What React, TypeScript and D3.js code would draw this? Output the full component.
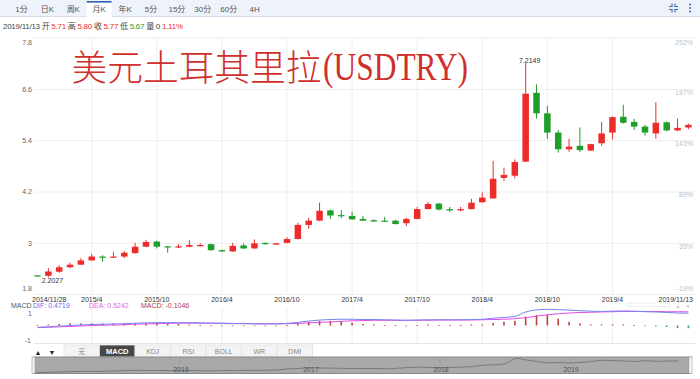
import React from "react";
import * as d3 from "d3";

// ---------- data ----------
const months = [
  "2014/11", "2014/12",
  "2015/01", "2015/02", "2015/03", "2015/04", "2015/05", "2015/06", "2015/07", "2015/08", "2015/09", "2015/10", "2015/11", "2015/12",
  "2016/01", "2016/02", "2016/03", "2016/04", "2016/05", "2016/06", "2016/07", "2016/08", "2016/09", "2016/10", "2016/11", "2016/12",
  "2017/01", "2017/02", "2017/03", "2017/04", "2017/05", "2017/06", "2017/07", "2017/08", "2017/09", "2017/10", "2017/11", "2017/12",
  "2018/01", "2018/02", "2018/03", "2018/04", "2018/05", "2018/06", "2018/07", "2018/08", "2018/09", "2018/10", "2018/11", "2018/12",
  "2019/01", "2019/02", "2019/03", "2019/04", "2019/05", "2019/06", "2019/07", "2019/08", "2019/09", "2019/10", "2019/11",
];
const open = [
  2.25, 2.24,
  2.335, 2.44, 2.5, 2.6, 2.69, 2.67, 2.69, 2.77, 2.92, 3.04, 2.93, 2.92,
  2.92, 2.95, 2.98, 2.84, 2.81, 2.95, 2.88, 3.01, 2.97, 3.01, 3.1, 3.43,
  3.53, 3.77, 3.66, 3.64, 3.57, 3.54, 3.53, 3.53, 3.47, 3.57, 3.8, 3.93,
  3.8, 3.77, 3.8, 3.96, 4.05, 4.53, 4.58, 4.91, 6.52, 6.04, 5.59, 5.2,
  5.28, 5.17, 5.34, 5.59, 5.96, 5.84, 5.73, 5.57, 5.83, 5.64, 5.71,
];
const high = [
  2.26, 2.42,
  2.49, 2.55, 2.65, 2.75, 2.72, 2.8, 2.82, 3.01, 3.08, 3.06, 2.94, 2.98,
  3.07, 3.0, 2.99, 2.85, 3.01, 3.0, 3.09, 3.02, 3.01, 3.14, 3.48, 3.6,
  3.95, 3.79, 3.78, 3.74, 3.64, 3.56, 3.62, 3.55, 3.6, 3.85, 3.97, 3.94,
  3.85, 3.85, 4.04, 4.19, 4.93, 4.77, 4.96, 7.2149, 6.72, 6.22, 5.65, 5.44,
  5.71, 5.33, 5.84, 5.97, 6.24, 5.91, 5.77, 6.3, 5.85, 5.92, 5.8,
];
const low = [
  2.23, 2.2027,
  2.31, 2.42, 2.49, 2.59, 2.57, 2.66, 2.65, 2.76, 2.91, 2.88, 2.78, 2.89,
  2.91, 2.92, 2.82, 2.8, 2.8, 2.86, 2.87, 2.97, 2.96, 3.0, 3.09, 3.34,
  3.52, 3.57, 3.59, 3.55, 3.52, 3.5, 3.5, 3.44, 3.4, 3.56, 3.79, 3.77,
  3.73, 3.75, 3.79, 3.95, 4.04, 4.46, 4.52, 4.9, 5.92, 5.44, 5.12, 5.14,
  5.14, 5.16, 5.28, 5.43, 5.8, 5.65, 5.52, 5.44, 5.62, 5.62, 5.67,
];
const close = [
  2.24, 2.34,
  2.44, 2.5, 2.6, 2.69, 2.68, 2.69, 2.78, 2.92, 3.03, 2.92, 2.92, 2.93,
  2.96, 2.96, 2.84, 2.81, 2.94, 2.88, 3.0, 2.98, 3.0, 3.1, 3.43, 3.53,
  3.76, 3.65, 3.64, 3.56, 3.53, 3.51, 3.52, 3.45, 3.57, 3.8, 3.92, 3.79,
  3.77, 3.8, 3.95, 4.07, 4.51, 4.6, 4.9, 6.5, 6.04, 5.59, 5.2, 5.26,
  5.18, 5.32, 5.57, 5.95, 5.82, 5.73, 5.59, 5.82, 5.64, 5.7, 5.77,
];
const dif = [
  -0.07, -0.05, -0.02, 0.0, 0.02, 0.04, 0.05, 0.06, 0.07, 0.09,
  0.1, 0.11, 0.11, 0.11, 0.11, 0.1, 0.09, 0.08, 0.07, 0.07,
  0.06, 0.06, 0.06, 0.08, 0.12, 0.17, 0.21, 0.23, 0.24, 0.24,
  0.23, 0.23, 0.22, 0.21, 0.2, 0.21, 0.22, 0.22, 0.22, 0.22,
  0.23, 0.24, 0.28, 0.31, 0.35, 0.52, 0.6, 0.62, 0.61, 0.59,
  0.57, 0.55, 0.54, 0.55, 0.56, 0.55, 0.53, 0.52, 0.5, 0.48, 0.4719,
];
const dea = [
  -0.08, -0.07, -0.05, -0.04, -0.02, 0.0, 0.01, 0.02, 0.03, 0.05,
  0.06, 0.07, 0.08, 0.09, 0.09, 0.09, 0.09, 0.09, 0.08, 0.08,
  0.07, 0.07, 0.07, 0.07, 0.08, 0.1, 0.12, 0.14, 0.16, 0.18,
  0.19, 0.2, 0.2, 0.2, 0.2, 0.2, 0.2, 0.21, 0.21, 0.21,
  0.21, 0.22, 0.23, 0.24, 0.26, 0.3, 0.36, 0.41, 0.45, 0.48,
  0.5, 0.51, 0.52, 0.53, 0.54, 0.54, 0.54, 0.54, 0.53, 0.53, 0.5242,
];
const macdHist = [
  0.02, 0.04, 0.06, 0.08, 0.08, 0.08, 0.08, 0.08, 0.08, 0.08,
  0.1, 0.1, 0.08, 0.06, 0.04, 0.02, 0.0, -0.02, -0.02, -0.02,
  -0.02, -0.02, -0.02, 0.02, 0.08, 0.14, 0.18, 0.18, 0.14, 0.1,
  0.06, 0.04, 0.02, 0.02, 0.0, 0.02, 0.04, 0.02, 0.02, 0.02,
  0.04, 0.04, 0.1, 0.14, 0.18, 0.34, 0.4, 0.42, 0.26, 0.14,
  0.08, 0.04, 0.04, 0.04, 0.04, 0.02, -0.02, -0.04, -0.06, -0.1, -0.1046,
];
const yTicks = [1.8, 3, 4.2, 5.4, 6.6, 7.8];
const pctTicks = ["-19%", "35%", "89%", "143%", "197%", "252%"];
const xTickMonths = ["2015/04", "2015/10", "2016/04", "2016/10", "2017/04", "2017/10", "2018/04", "2018/10", "2019/04"];
const xTickLabels = ["2015/4", "2015/10", "2016/4", "2016/10", "2017/4", "2017/10", "2018/4", "2018/10", "2019/4"];
const firstDateLabel = "2014/11/28";
const lastDateLabel = "2019/11/13";
const navYearMonths = ["2016/01", "2017/01", "2018/01", "2019/01"];
const navYearLabels = ["2016", "2017", "2018", "2019"];
const periodTabs = ["1分", "日K", "周K", "月K", "年K", "5分", "15分", "30分", "60分", "4H"];
const indicatorTabs = ["无", "MACD", "KDJ", "RSI", "BOLL", "WR", "DMI"];
const lowLabel = "2.2027";
const highLabel = "7.2149";
const info = { date: "2019/11/13", o: "5.71", h: "5.80", c: "5.77", l: "5.67", vol: "0", chg: "1.11%" };
const macdInfo = { dif: "0.4719", dea: "0.5242", macd: "-0.1046" };

// ---------- style ----------
const FONT = "'Liberation Sans', Arial, 'Noto Sans CJK SC', sans-serif";
const RED = "#ee2b2b";
const GREEN = "#1f9e2a";
const W = 700;
const H = 379;

export default function App() {
  const x = d3.scalePoint<string>().domain(months).range([37.5, 688.4]);
  const step = x.step();
  const cw = step * 0.6;
  const y = d3.scaleLinear().domain([1.8, 7.8]).range([294.6, 38.1]);
  const ym = d3.scaleLinear().domain([0, 1]).range([325.5, 299.5]);
  const xn = d3.scalePoint<string>().domain(months).range([180 - 14 * 10.833, 180 + 46 * 10.833]);
  const yn = d3.scaleLinear().domain([2.2, 7.2]).range([373, 356]);

  const idx = months.map((_, i) => i);
  const difLine = d3.line<number>().x((i) => x(months[i])!).y((i) => ym(dif[i])).curve(d3.curveMonotoneX);
  const deaLine = d3.line<number>().x((i) => x(months[i])!).y((i) => ym(dea[i])).curve(d3.curveMonotoneX);
  const navLine = d3.line<number>().x((i) => xn(months[i])!).y((i) => yn(close[i])).curve(d3.curveMonotoneX);

  const clampY = (v: number) => Math.min(Math.max(v, 43), 289);
  const plotL = 34;
  const plotR = 695;

  const iLow = low.indexOf(d3.min(low)!);
  const iHigh = high.indexOf(d3.max(high)!);

  return (
    <svg
      width={W}
      height={H}
      style={{ position: "absolute", left: 0, top: 0, display: "block", background: "#fff" }}
      fontFamily={FONT}
    >
      <rect x={0} y={0} width={W} height={H} fill="#fff" />

      {/* top toolbar */}
      <rect x={0} y={0} width={W} height={17} fill="#eef3fb" />
      <line x1={0} x2={W} y1={16.5} y2={16.5} stroke="#d6deeb" />
      {periodTabs.map((t, k) => {
        const cx = 21.5 + k * 25.9;
        return (
          <g key={t}>
            {t === "月K" && (
              <>
                <rect x={cx - 12.5} y={1} width={25} height={16} fill="#fff" />
                <rect x={cx - 12.5} y={1} width={25} height={1.6} fill="#2f5fb3" />
              </>
            )}
            <text x={cx} y={12} fontSize={8} fill="#555" textAnchor="middle">
              {t}
            </text>
          </g>
        );
      })}
      <g stroke="#3a6cb5" strokeWidth={1.2} fill="none">
        <path d="M669,6.5 H672 V3.5" />
        <path d="M678,6.5 H675 V3.5" />
        <path d="M669,9.5 H672 V12.5" />
        <path d="M678,9.5 H675 V12.5" />
      </g>
      {[4.5, 8, 11.5].map((cy) => (
        <circle key={cy} cx={690} cy={cy} r={1} fill="#3a6cb5" />
      ))}

      {/* info line */}
      <text x={3} y={29} fontSize={8} fill="#444" textLength={180}>
        <tspan>{info.date} 开 </tspan>
        <tspan fill={RED}>{info.o}</tspan>
        <tspan> 高 </tspan>
        <tspan fill={RED}>{info.h}</tspan>
        <tspan> 收 </tspan>
        <tspan fill={RED}>{info.c}</tspan>
        <tspan> 低 </tspan>
        <tspan fill={GREEN}>{info.l}</tspan>
        <tspan> 量 {info.vol} </tspan>
        <tspan fill={RED}>{info.chg}</tspan>
      </text>

      {/* grid */}
      {yTicks.map((v) => (
        <line key={v} x1={plotL} x2={plotR} y1={y(v)} y2={y(v)} stroke="#eeeeee" />
      ))}
      {xTickMonths.map((m) => (
        <g key={m}>
          <line x1={x(m)} x2={x(m)} y1={y(7.8)} y2={y(1.8)} stroke="#eeeeee" />
          <line x1={x(m)} x2={x(m)} y1={308} y2={343} stroke="#eeeeee" />
        </g>
      ))}
      <line x1={plotL} x2={plotR} y1={343.5} y2={343.5} stroke="#e6e6e6" />

      {/* title */}
      <text x={71.5} y={81} fontSize={36} fill="#d0302c" fontFamily="'Noto Sans CJK SC', sans-serif" fontWeight={300} textLength={250} lengthAdjust="spacingAndGlyphs">
        美元土耳其里拉
      </text>
      <text x={323} y={80} fontSize={40} fill="#d0302c" fontFamily="'Liberation Serif', serif" textLength={145} lengthAdjust="spacingAndGlyphs">
        (USDTRY)
      </text>

      {/* y labels */}
      {yTicks.map((v) => (
        <text key={v} x={32} y={clampY(y(v))} dy="0.35em" fontSize={7} fill="#666" textAnchor="end">
          {String(v)}
        </text>
      ))}
      {yTicks.map((v, k) => (
        <text key={"p" + v} x={693} y={clampY(y(v) + 3)} dy="0.35em" fontSize={7} fill="#c2c2c2" textAnchor="end">
          {pctTicks[k]}
        </text>
      ))}

      {/* candles */}
      {months.map((m, i) => {
        const cx = x(m)!;
        const o = open[i];
        const c = close[i];
        const col = c >= o ? RED : GREEN;
        const yt = y(Math.max(o, c));
        const yb = y(Math.min(o, c));
        return (
          <g key={m}>
            <line x1={cx} x2={cx} y1={y(high[i])} y2={y(low[i])} stroke={col} strokeWidth={1} />
            <rect x={cx - cw / 2} y={yt} width={cw} height={Math.max(1.2, yb - yt)} fill={col} />
          </g>
        );
      })}
      <text x={x(months[iLow])! + 4} y={y(low[iLow]) + 6} fontSize={7} fill="#333" textAnchor="middle">
        {lowLabel}
      </text>
      <text x={x(months[iHigh])! + 4} y={y(high[iHigh]) - 0.5} fontSize={7} fill="#333" textAnchor="middle">
        {highLabel}
      </text>

      {/* x labels */}
      <text x={32} y={301.5} fontSize={7} fill="#333">
        {firstDateLabel}
      </text>
      {xTickMonths.map((m, k) => (
        <text key={m} x={x(m)} y={301.5} fontSize={7} fill="#333" textAnchor="middle">
          {xTickLabels[k]}
        </text>
      ))}
      <text x={693} y={301.5} fontSize={7} fill="#333" textAnchor="end">
        {lastDateLabel}
      </text>

      {/* MACD pane */}
      <text x={11} y={307.5} fontSize={7}>
        <tspan fill="#555">MACD </tspan>
        <tspan x={33} fill="#5b6cf0">DIF: {macdInfo.dif}</tspan>
        <tspan x={89} fill="#e05ee0">DEA: {macdInfo.dea}</tspan>
        <tspan x={141} fill="#b43c3c">MACD: {macdInfo.macd}</tspan>
      </text>
      <text x={32} y={315.5} fontSize={7} fill="#666" textAnchor="end">1</text>
      <text x={31} y={343} fontSize={7} fill="#666" textAnchor="end">-1</text>
      <rect x={627} y={303} width={43} height={3.5} fill="none" stroke="#dcdcdc" strokeDasharray="1 1" />
      <text x={678} y={308} fontSize={5} fill="#c8c8c8" textAnchor="middle">▲</text>
      <text x={688} y={308} fontSize={5} fill="#c8c8c8" textAnchor="middle">▼</text>
      {months.map((m, i) => {
        const v = macdHist[i];
        const y0 = ym(0);
        const y1 = ym(v);
        return (
          <rect
            key={"h" + m}
            x={x(m)! - 0.8}
            y={Math.min(y0, y1)}
            width={1.6}
            height={Math.max(0.8, Math.abs(y1 - y0))}
            fill={v >= 0 ? "#c0403a" : "#4e9a6a"}
          />
        );
      })}
      <path d={deaLine(idx)!} fill="none" stroke="#e64ce6" strokeWidth={1} />
      <path d={difLine(idx)!} fill="none" stroke="#7784f2" strokeWidth={1} />

      {/* indicator tabs */}
      <text x={38} y={355} fontSize={7} fill="#222" textAnchor="middle">▲</text>
      <text x={52} y={355} fontSize={7} fill="#222" textAnchor="middle">▼</text>
      {indicatorTabs.map((t, k) => {
        const x0 = 64 + k * 35.5;
        const sel = t === "MACD";
        return (
          <g key={t}>
            <rect x={x0} y={345} width={35.5} height={12} fill={sel ? "#474747" : "#f3f3f3"} stroke="#e2e2e2" strokeWidth={0.8} />
            <text
              x={x0 + 17.75}
              y={353.7}
              fontSize={sel ? 7.5 : 7}
              fontWeight={sel ? "bold" : "normal"}
              fill={sel ? "#fff" : "#888"}
              textAnchor="middle"
            >
              {t}
            </text>
          </g>
        );
      })}

      {/* navigator */}
      <defs>
        <clipPath id="navclip">
          <rect x={34} y={357} width={655} height={16} />
        </clipPath>
      </defs>
      <rect x={33.5} y={357} width={658} height={16.5} fill="#a9a9a9" stroke="#8a8a8a" />
      <g clipPath="url(#navclip)">
        {navYearMonths.map((m) => (
          <line key={m} x1={xn(m)} x2={xn(m)} y1={357.5} y2={364} stroke="#999" strokeWidth={0.8} />
        ))}
        <path d={navLine(idx)!} fill="none" stroke="#7a7a7a" strokeWidth={1} />
      </g>
      {navYearMonths.map((m, k) => (
        <text key={"n" + m} x={xn(m)! + 1} y={371.5} fontSize={7} fill="#555" textAnchor="middle">
          {navYearLabels[k]}
        </text>
      ))}
      <rect x={32} y={357} width={3} height={16.5} fill="#f2f2f2" stroke="#999" strokeWidth={0.6} />
      <rect x={689} y={357} width={3} height={16.5} fill="#fafafa" stroke="#999" strokeWidth={0.6} />
    </svg>
  );
}
